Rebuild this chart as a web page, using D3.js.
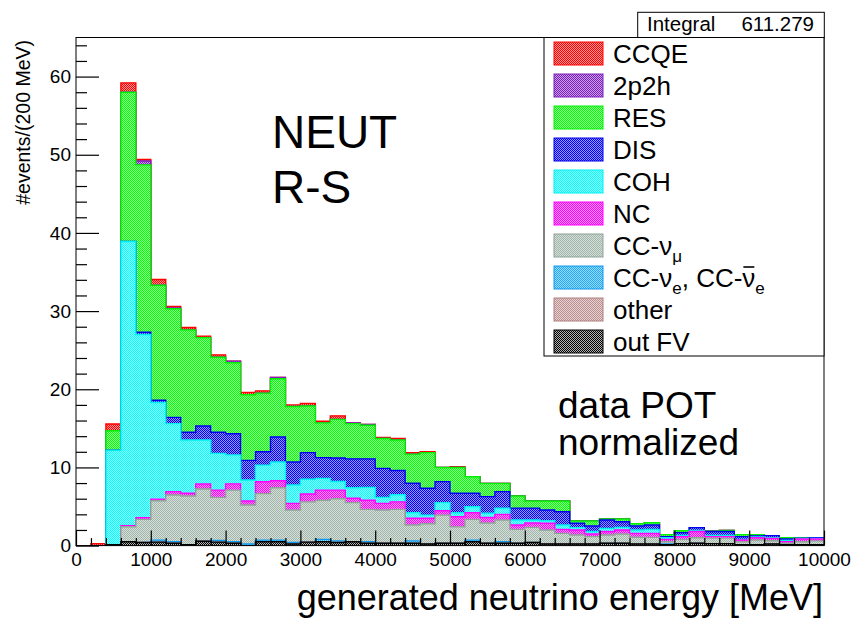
<!DOCTYPE html>
<html><head><meta charset="utf-8">
<script src="https://cdn.jsdelivr.net/npm/d3@7"></script>
<style>
body{margin:0;background:#fff}
svg{display:block}
text{font-family:"Liberation Sans",Arial,Helvetica,sans-serif;fill:#000}
</style>
</head><body>
<svg id="c" width="854" height="620"></svg>
<script>
// ---------- data (200 MeV bins, 0 - 10000 MeV) ----------
const binStart = [0,200,400,600,800,1000,1200,1400,1600,1800,
  2000,2200,2400,2600,2800,3000,3200,3400,3600,3800,
  4000,4200,4400,4600,4800,5000,5200,5400,5600,5800,
  6000,6200,6400,6600,6800,7000,7200,7400,7600,7800,
  8000,8200,8400,8600,8800,9000,9200,9400,9600,9800];
const binWidth = 200;

const outFV = [0,0,0.1,0.5,0.4,0.45,0.3,0.1,0.55,0.45,
  0.3,0,0.5,0.5,0.2,0.45,0.5,0.4,0.5,0.3,
  0.3,0.3,0.3,0.2,0.3,0.3,0.5,0.3,0.3,0.3,
  0.4,0.2,0.2,0.2,0.2,0.3,0.3,0.2,0.2,0.1,
  0.25,0.3,0.25,0.25,0.1,0.1,0.2,0.1,0.1,0.1];
const other = [0,0,0,0,0,0,0,0,0,0, 0,0,0,0,0,0,0,0,0,0,
  0,0,0,0,0,0,0,0,0,0, 0,0,0,0,0,0,0,0,0,0, 0,0,0,0,0,0,0,0,0,0];
const ccNue = [0,0,0,0,0,0.25,0.2,0,0,0.2,
  0.2,0.2,0.2,0.2,0.2,0,0.3,0.2,0,0.2,
  0,0,0.3,0,0,0,0.2,0,0.2,0,
  0,0,0,0,0,0,0,0,0,0.1,
  0,0,0,0,0,0,0,0,0,0];
const ccNumu = [0,0,0,1.92,2.96,5.04,5.97,6.25,6.69,5.52,
  6.6,4.99,5.95,6.7,4.15,5.15,5.0,5.4,5.0,4.14,
  4.25,4.34,2.03,2.6,3.6,2.1,2.66,2.6,2.77,1.78,
  1.93,1.8,1.37,1.16,0.95,1.06,1.18,0.86,0.85,0.3,
  0.55,0.7,0.7,0.7,0.4,0.62,0.43,0.2,0.4,0.5];
const nc = [0,0,0,0.13,0.21,0.21,0.43,0.35,0.64,0.93,
  0.8,0.51,1.52,0.9,0.85,1.0,1.3,1.1,0.55,1.16,
  0.85,0.96,0.86,0.69,0.55,1.3,0.84,0.7,0.73,0.55,
  0.57,0.85,0.51,0.64,0.33,0.44,0.52,0.51,0.52,0.3,
  0.35,0.8,0.2,0.2,0.22,0.28,0.3,0.2,0.35,0.25];
const coh = [0,0,12.1,36.35,23.43,12.35,8.7,6.8,5.62,4.7,
  3.7,2.7,2.13,2.4,2.35,1.88,1.5,1.1,1.35,1.65,
  0.77,0.9,0.71,0.41,1.05,0.5,0.77,0.53,0.8,0.64,
  0.37,0.35,0.55,0.3,0.32,0.4,0.33,0.43,0.51,0.2,
  0.15,0.15,0.15,0.15,0.08,0.1,0.07,0.15,0.05,0.05];
const dis = [0,0,0,0,0.3,0.3,0.8,1.0,1.8,2.7,
  2.7,2.5,1.7,3.2,2.95,3.42,2.65,3.0,3.7,3.65,
  3.71,3.1,3.77,3.43,2.68,2.5,1.73,2.13,2.1,1.53,
  1.53,1.35,1.71,0.55,0.7,1.07,0.72,0.5,0.55,0.15,
  0.36,0.35,0.5,0.5,0.35,0.15,0.27,0.2,0.05,0.1];
const res = [0,0,2.5,19.1,21.4,14.7,13.9,13.1,11.3,9.6,
  9.1,8.4,7.5,7.45,7.1,5.95,4.45,4.95,4.5,4.3,
  3.82,3.9,3.73,4.57,1.82,3.3,2.1,1.7,1.06,1.54,
  0.9,1.15,1.36,0.3,0.65,0.13,0.35,0.3,0.3,0.25,
  0.24,0,0.05,0.15,0.25,0.15,0,0.15,0.05,0];
const twoP2h = [0,0,0,0,0.5,0,0.1,0,0,0,
  0.2,0,0,0.15,0,0,0,0,0.1,0.1,
  0,0,0,0,0,0,0,0,0,0, 0,0,0,0,0,0,0,0,0,0, 0,0,0,0,0,0,0,0,0,0];
const ccqe = [0,0.25,0.85,1.2,0.2,0.75,0.2,0.3,0.2,0.3,
  0,0.3,0.3,0,0.2,0.35,0.2,0.45,0,0,
  0.15,0.2,0.2,0.1,0,0.1,0,0,0,0,
  0,0,0,0,0,0,0,0,0,0, 0,0,0,0,0,0,0,0,0,0];

const xTicks = [0,1000,2000,3000,4000,5000,6000,7000,8000,9000,10000];
const yTicks = [0,10,20,30,40,50,60];
const legendLabels = ["CCQE","2p2h","RES","DIS","COH","NC","CC-\u03bd\u03bc","CC-\u03bde, CC-\u03bd\u0304e","other","out FV"];
const integralLabel = "Integral";
const integralValue = "611.279";

// ---------- styles ----------
const seriesDefs = [
  {key:"outFV",  vals:outFV,  color:"#000000", tint:"#b4b4b4", line:"#000000"},
  {key:"other",  vals:other,  color:"#bc8f8f", tint:"#e6d2d2", line:"#b08080"},
  {key:"ccNue",  vals:ccNue,  color:"#22aaee", tint:"#99d8ff", line:"#1199ee"},
  {key:"ccNumu", vals:ccNumu, color:"#a3b5aa", tint:"#d6e0da", line:"#8fa398"},
  {key:"nc",     vals:nc,     color:"#ff00ff", tint:"#ff99ff", line:"#ff00ff"},
  {key:"coh",    vals:coh,    color:"#00ffff", tint:"#99ffff", line:"#00eeee"},
  {key:"dis",    vals:dis,    color:"#0000ff", tint:"#9999ff", line:"#0000ee"},
  {key:"res",    vals:res,    color:"#00ff00", tint:"#99ff99", line:"#00ee00"},
  {key:"twoP2h", vals:twoP2h, color:"#7f1fbf", tint:"#c7a0e3", line:"#7f1fbf"},
  {key:"ccqe",   vals:ccqe,   color:"#ff0000", tint:"#ff9999", line:"#ff0000"}
];

const svg = d3.select("#c");
const L = 76, R = 824, T = 37.5, B = 545.6;
const x = d3.scaleLinear().domain([0,10000]).range([L,R]);
const y = d3.scaleLinear().domain([0,65]).range([B,T]);

const defs = svg.append("defs");
seriesDefs.forEach(s => {
  const p = defs.append("pattern").attr("id","p_"+s.key)
    .attr("patternUnits","userSpaceOnUse").attr("width",2).attr("height",2);
  p.append("rect").attr("width",2).attr("height",2).attr("fill",s.tint);
  p.append("rect").attr("x",0).attr("y",0).attr("width",1).attr("height",1).attr("fill",s.color);
  p.append("rect").attr("x",1).attr("y",1).attr("width",1).attr("height",1).attr("fill",s.color);
});
defs.append("clipPath").attr("id","clip").append("rect")
  .attr("x",L).attr("y",T).attr("width",R-L).attr("height",B-T);

// stack
const rows = binStart.map((b,i) => {
  const o = {x:b};
  seriesDefs.forEach(s => o[s.key] = s.vals[i]);
  return o;
});
const stacked = d3.stack().keys(seriesDefs.map(s=>s.key))(rows);

const g = svg.append("g").attr("clip-path","url(#clip)");
const area = d3.area().curve(d3.curveStepAfter)
  .x(d=>x(d.x)).y0(y(0)).y1(d=>y(d.y));
const line = d3.line().curve(d3.curveStepAfter).x(d=>x(d.x)).y(d=>y(d.y));

for (let k = stacked.length-1; k >= 0; k--) {
  const layer = stacked[k], s = seriesDefs[k];
  const pts = layer.map((d,i)=>({x:binStart[i], y:d[1]}));
  pts.push({x:binStart[binStart.length-1]+binWidth, y:layer[layer.length-1][1]});
  g.append("path").attr("d",area(pts)).attr("fill","url(#p_"+s.key+")");
  const lp = [{x:0,y:0}].concat(pts).concat([{x:binStart[binStart.length-1]+binWidth,y:0}]);
  g.append("path").attr("d",line(lp)).attr("fill","none")
    .attr("stroke",s.line).attr("stroke-width",1.4);
}

// frame
svg.append("rect").attr("x",L).attr("y",T).attr("width",R-L).attr("height",B-T)
  .attr("fill","none").attr("stroke","#000").attr("stroke-width",1);

// axes
const yMinor = [];
for (let v = 0; v <= 64; v += 2) if (v % 10) yMinor.push(v);
const xMinor = binStart.filter(v => v % 1000);

svg.append("g").attr("transform",`translate(${L},0)`)
  .call(d3.axisLeft(y).tickValues(yTicks).tickSize(-23).tickPadding(5).tickFormat(d3.format("d")));
svg.append("g").attr("transform",`translate(${L},0)`)
  .call(d3.axisLeft(y).tickValues(yMinor).tickSize(-11).tickFormat(""));
svg.append("g").attr("transform",`translate(0,${B})`)
  .call(d3.axisBottom(x).tickValues(xTicks).tickSize(-15).tickPadding(7).tickFormat(d3.format("d")));
svg.append("g").attr("transform",`translate(0,${B})`)
  .call(d3.axisBottom(x).tickValues(xMinor).tickSize(-7.5).tickFormat(""));
svg.selectAll(".domain").remove();
svg.selectAll(".tick line").attr("stroke","#000").attr("stroke-width",1.2);
svg.selectAll(".tick text").attr("font-size",19).attr("font-family",'"Liberation Sans",Arial,sans-serif').attr("fill","#000");

// axis titles
svg.append("text").attr("x",823).attr("y",610).attr("text-anchor","end")
  .attr("font-size",36).text("generated neutrino energy [MeV]");
svg.append("text").attr("transform","translate(30,40) rotate(-90)").attr("text-anchor","end")
  .attr("font-size",19.5).text("#events/(200 MeV)");

// annotations
svg.append("text").attr("x",272).attr("y",148).attr("font-size",46).text("NEUT");
svg.append("text").attr("x",272).attr("y",203).attr("font-size",46).text("R-S");
svg.append("text").attr("x",558).attr("y",418).attr("font-size",37).text("data POT");
svg.append("text").attr("x",558).attr("y",455).attr("font-size",37).text("normalized");

// stats box
svg.append("rect").attr("x",637.7).attr("y",12.3).attr("width",186.6).attr("height",25.2)
  .attr("fill","#fff").attr("stroke","#000").attr("stroke-width",1);
svg.append("text").attr("x",647).attr("y",31).attr("font-size",20.5).text(integralLabel);
svg.append("text").attr("x",814).attr("y",31).attr("text-anchor","end").attr("font-size",20.5).text(integralValue);

// legend
svg.append("rect").attr("x",544).attr("y",T).attr("width",R-544).attr("height",356-T)
  .attr("fill","#fff").attr("stroke","#000").attr("stroke-width",1);
const legOrder = seriesDefs.slice().reverse();
legOrder.forEach((s,i) => {
  const cy = 53.5 + i*32;
  svg.append("rect").attr("x",554).attr("y",cy-11.5).attr("width",49).attr("height",23)
    .attr("fill","url(#p_"+s.key+")").attr("stroke",s.line).attr("stroke-width",1);
  const t = svg.append("text").attr("x",613).attr("y",cy+9.5).attr("font-size",26);
  const lab = legendLabels[i];
  if (i === 6) {
    t.append("tspan").text(lab.slice(0,4));
    t.append("tspan").attr("dy",7).attr("font-size",17).text(lab.slice(4,5));
  } else if (i === 7) {
    t.append("tspan").text(lab.slice(0,4));
    t.append("tspan").attr("dy",7).attr("font-size",17).text("e");
    t.append("tspan").attr("dy",-7).text(", CC-");
    t.append("tspan").text("\u03bd");
    t.append("tspan").attr("dy",7).attr("font-size",17).text("e");
    const ext = t.node().getExtentOfChar(10);
    svg.append("line").attr("x1",ext.x+1).attr("x2",ext.x+ext.width-1)
      .attr("y1",cy+9.5-20).attr("y2",cy+9.5-20).attr("stroke","#000").attr("stroke-width",1.6);
  } else {
    t.text(lab);
  }
});
</script>
</body></html>
